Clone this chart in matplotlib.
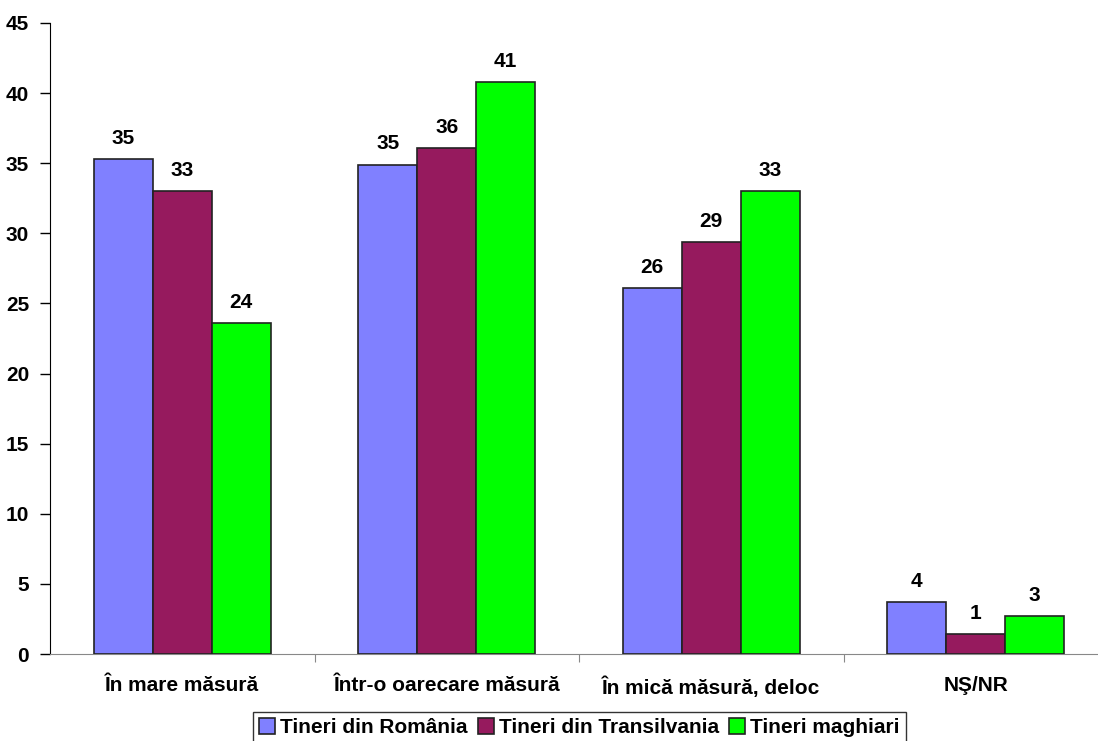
import numpy as np
import matplotlib.pyplot as plt

plt.rcParams['font.family'] = ['Liberation Sans', 'DejaVu Sans']

categories = ['În mare măsură', 'Într-o oarecare măsură', 'În mică măsură, deloc', 'NŞ/NR']
series_names = ['Tineri din România', 'Tineri din Transilvania', 'Tineri maghiari']
romania = [35.3, 34.9, 26.1, 3.7]
transilvania = [33.0, 36.1, 29.4, 1.4]
maghiari = [23.6, 40.8, 33.0, 2.7]
labels = [[35, 35, 26, 4], [33, 36, 29, 1], [24, 41, 33, 3]]
colors = ['#8080FF', '#961A5E', '#00FF00']

W, H = 1098, 741
fs = 15
fig = plt.figure(figsize=(W / 100, H / 100), dpi=100)
ax = fig.add_axes([50 / W, (H - 654) / H, 1058 / W, (654 - 23) / H])

x = np.arange(len(categories))
bw = 0.223
all_vals = [romania, transilvania, maghiari]
for i, vals in enumerate(all_vals):
    pos = x + (i - 1) * bw
    ax.bar(pos, vals, bw, color=colors[i], edgecolor='#222222', linewidth=1.2,
           label=series_names[i], zorder=3)
    for p, v, lab in zip(pos, vals, labels[i]):
        ax.text(p, v + 0.8, str(lab), ha='center', va='bottom',
                fontsize=fs, fontweight='bold')

ax.set_xlim(-0.5, 3.5)
ax.set_ylim(0, 45)
ax.set_yticks(range(0, 46, 5))
ax.tick_params(axis='y', labelsize=fs, length=7, width=1, pad=8)
for t in ax.get_yticklabels():
    t.set_fontweight('bold')

# group separators on the x axis, category names between them
ax.set_xticks([0.5, 1.5, 2.5], minor=False)
ax.set_xticklabels([])
ax.tick_params(axis='x', length=6, color='#888888')
ax.set_xticks(x, minor=True)
ax.set_xticklabels(categories, minor=True, fontsize=fs, fontweight='bold')
ax.tick_params(axis='x', which='minor', length=0, pad=16)

ax.spines['top'].set_visible(False)
ax.spines['right'].set_visible(False)
ax.spines['bottom'].set_color('#888888')

leg = fig.legend(loc='upper left', bbox_to_anchor=(253 / W, 1 - 712 / H), ncol=3,
                 frameon=True, fancybox=False, edgecolor='black',
                 prop={'size': fs, 'weight': 'bold'}, handlelength=0.75,
                 handleheight=0.75, handletextpad=0.25, columnspacing=0.5,
                 borderpad=0.3, borderaxespad=0)
leg.get_frame().set_linewidth(1)

fig.savefig('out.png', dpi=100)
